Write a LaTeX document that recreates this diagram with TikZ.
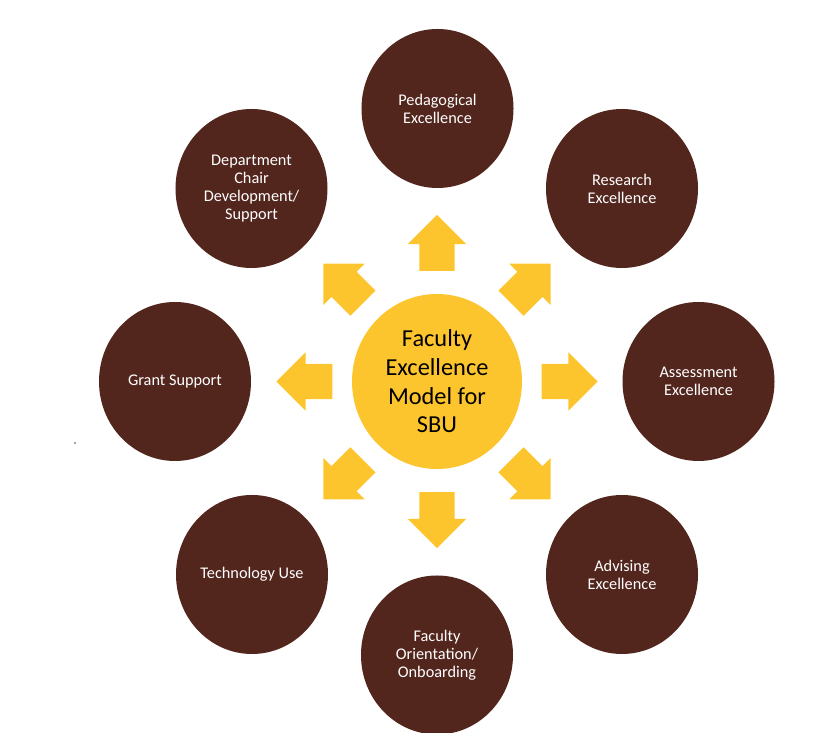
\documentclass[tikz,border=0pt]{standalone}
\usepackage{fontspec}
\setmainfont{Carlito}
\usetikzlibrary{shapes.geometric,shapes.arrows}
\definecolor{sbubrown}{RGB}{83,38,29}
\definecolor{sbugold}{RGB}{253,197,45}
\tikzset{
  pillar/.style={ellipse, fill=sbubrown, text=white, inner sep=0pt,
    minimum width=4.56cm, minimum height=4.77cm, align=center,
    font=\fontsize{13.9}{15.4}\selectfont},
  push/.style={single arrow, fill=sbugold, anchor=tip,
    inner xsep=0pt, inner ysep=0.525cm, minimum height=1.68cm,
    single arrow head extend=0.345cm, single arrow tip angle=90},
}

\begin{document}
\begin{tikzpicture}[x=0.03cm, y=0.03cm]
\useasboundingbox (0,0) rectangle (828,733);

%% Hub
\node[ellipse, fill=sbugold, inner sep=0pt, minimum width=5.1cm,
  minimum height=5.25cm, align=center,
  font=\fontsize{20.8}{24.4}\selectfont] (hub) at (437,351.5)
  {Faculty\\Excellence\\Model for\\SBU};

%% Pillars (clockwise from top)
\node[pillar] (pedagogy) at (437.5,624.5) {Pedagogical\\Excellence};
\node[pillar] (research) at (622,544.5) {Research\\Excellence};
\node[pillar] (assess) at (698.5,351.5) {Assessment\\Excellence};
\node[pillar] (advise) at (622,158.5) {Advising\\Excellence};
\node[pillar] (onboard) at (437,78) {Faculty\\Orientation/\\Onboarding};
\node[pillar] (tech) at (252,158.5) {Technology Use};
\node[pillar] (grant) at (175,351.5) {Grant Support};
\node[pillar] (chair) at (251.5,544.5) {Department\\Chair\\Development/\\Support};

%% Arrows out of the hub
\node[push, rotate=90] (toPedagogy) at ([shift={(90:161 and 167)}]hub.center) {};
\node[push, rotate=45] (toResearch) at ([shift={(45:161 and 167)}]hub.center) {};
\node[push, rotate=0] (toAssess) at ([shift={(0:161 and 167)}]hub.center) {};
\node[push, rotate=-45] (toAdvise) at ([shift={(-45:161 and 167)}]hub.center) {};
\node[push, rotate=-90] (toOnboard) at ([shift={(-90:161 and 167)}]hub.center) {};
\node[push, rotate=-135] (toTech) at ([shift={(-135:161 and 167)}]hub.center) {};
\node[push, rotate=180] (toGrant) at ([shift={(180:161 and 167)}]hub.center) {};
\node[push, rotate=135] (toChair) at ([shift={(135:161 and 167)}]hub.center) {};

% stray speck left of Grant Support
\fill[black!70] (75,290) circle (0.8);

\end{tikzpicture}
\end{document}
